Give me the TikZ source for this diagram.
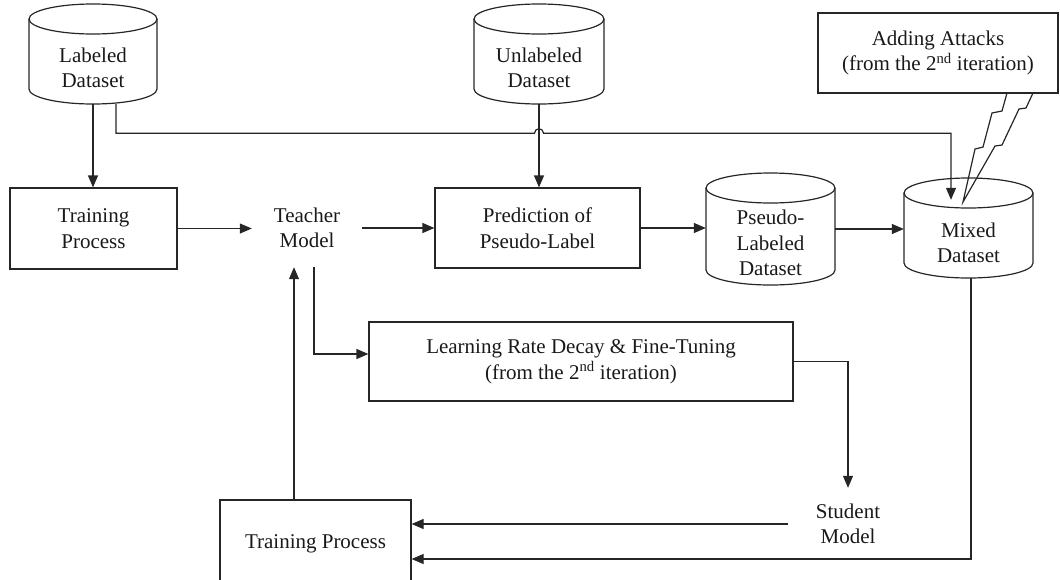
\documentclass[tikz,border=0pt]{standalone}
\usepackage{fontspec}
\setmainfont{Liberation Serif}
\usetikzlibrary{arrows.meta,calc}
\newcommand\cylout[4]{%
  \draw[ln] (#1-#4,-#2-15) -- (#1-#4,-#3+15) arc[start angle=180,end angle=360,x radius=#4,y radius=15] -- (#1+#4,-#2-15);
  \draw[ln] (#1,-#2-15) ellipse[x radius=#4, y radius=15];}
\begin{document}
\begin{tikzpicture}[x=1pt,y=1pt,
  every node/.style={font=\fontsize{21}{25.5}\selectfont, align=center, inner sep=0pt, text=black!90},
  box/.style={draw=black!85, line width=1.2pt},
  ln/.style={draw=black!85, line width=1.2pt},
  conn/.style={draw=black!85, line width=1.2pt, -{Triangle[length=12pt,width=10pt]}, line join=miter}]
\useasboundingbox (0,0) rectangle (1060,-579);

% cylinders
\cylout{93}{4}{104}{64}
\cylout{539}{4}{104}{65}
\cylout{770.5}{173}{285}{64.5}
\cylout{968.5}{178}{278}{64.5}

\node[minimum width=128, minimum height=100] (lab) at (93,-54) {};
\node (labt) at (93,-68) {Labeled\\Dataset};
\node[minimum width=130, minimum height=100] (uln) at (539,-54) {};
\node (ulnt) at (539,-68) {Unlabeled\\Dataset};
\node[minimum width=129, minimum height=112] (psd) at (770.5,-229) {};
\node (psdt) at (770.5,-243) {Pseudo-\\Labeled\\Dataset};
\node[minimum width=129, minimum height=100] (mix) at (968.5,-228) {};
\node (mixt) at (968.5,-243) {Mixed\\Dataset};

% boxes
\node[box, minimum width=167, minimum height=81] (tp1) at (93.5,-228.5) {Training\\Process};
\node[minimum width=110, minimum height=78] (teach) at (307,-228) {Teacher\\Model};
\node[box, minimum width=205, minimum height=80] (pred) at (537.5,-228) {Prediction of\\Pseudo-Label};
\node[box, minimum width=240, minimum height=80] (atk) at (938,-53) {Adding Attacks\\(from the 2\textsuperscript{nd} iteration)};
\node[box, minimum width=424, minimum height=79] (lr) at (581,-361.5) {Learning Rate Decay \& Fine-Tuning\\(from the 2\textsuperscript{nd} iteration)};
\node[minimum width=120, minimum height=72] (stu) at (848,-524) {Student\\Model};
\node[box, minimum width=191, minimum height=90] (tp2) at (315.5,-545) {\raisebox{6pt}{Training Process}};

% lightning
\draw[ln, line join=miter] (1007,-93) -- (1002,-111) -- (992,-113) -- (983,-147) -- (975,-149) -- (963,-202)
  -- (995,-146) -- (1002,-145) -- (1019,-109) -- (1026,-108) -- (1033,-93);

% connectors
\draw[conn] (lab.south) -- (lab.south |- tp1.north);
\draw[conn] ([xshift=23pt]lab.south) |- ($(uln.south)+(-4.5,-29)$)
  arc[start angle=180,end angle=0,radius=4.5] -| ($(mix.north)+(-17.5,-22)$);
\draw[conn] (uln.south) -- (uln.south |- pred.north);
\draw[conn] (tp1.east) -- (tp1.east -| teach.west);
\draw[conn] (teach.east) -- (pred.west);
\draw[conn] (pred.east) -- (pred.east -| psd.west);
\draw[conn] (psd.east) -- (psd.east -| mix.west);
\draw[conn] ([xshift=7pt]teach.south) |- ([yshift=7.5pt]lr.west);
\draw[conn] (lr.east) -| (stu.north);
\draw[conn] (stu.west) -- (stu.west -| tp2.east);
\draw[conn] ([xshift=-21.5pt]tp2.north) -- ([xshift=-21.5pt]tp2.north |- teach.south);
\draw[conn] ([xshift=2.5pt]mix.south) |- ([yshift=-14pt]tp2.east);
\end{tikzpicture}
\end{document}
